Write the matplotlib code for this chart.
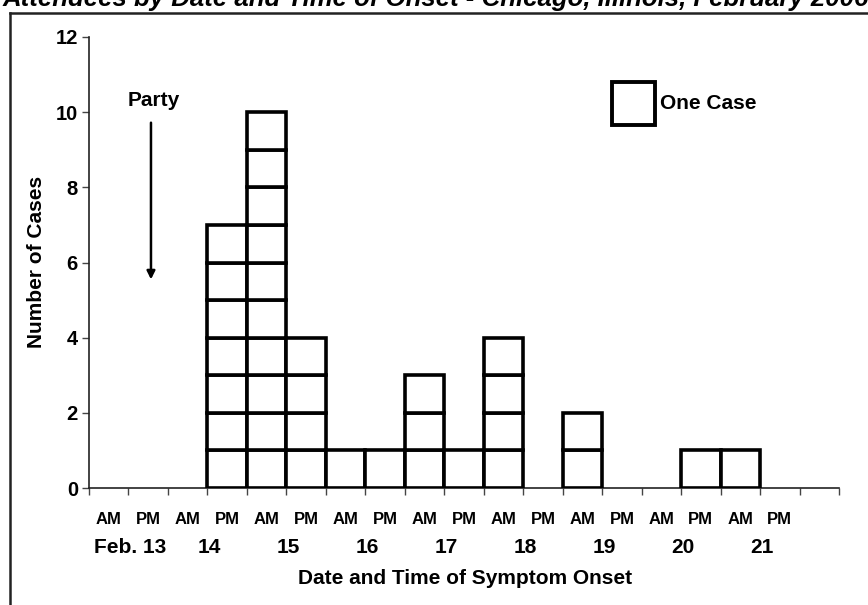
import matplotlib
matplotlib.use("Agg")
import matplotlib.pyplot as plt
from matplotlib.patches import Rectangle
from matplotlib.lines import Line2D

plt.rcParams['font.family'] = ['Liberation Sans', 'DejaVu Sans']
plt.rcParams['font.weight'] = 'bold'

# Data: half-day slots starting Feb 13 AM
half_day_labels = ["AM", "PM"] * 9
date_labels = ["Feb. 13", "14", "15", "16", "17", "18", "19", "20", "21"]
case_counts = [0, 0, 0, 7, 10, 4, 1, 1, 3, 1, 4, 0, 2, 0, 0, 1, 1, 0, 0]
y_ticks = [0, 2, 4, 6, 8, 10, 12]

W, H = 868, 605
fig = plt.figure(figsize=(W / 100, H / 100), dpi=100)
fig.patch.set_facecolor('white')

ax_l, ax_r, ax_t, ax_b = 89, 839, 37, 488
ax = fig.add_axes([ax_l / W, 1 - ax_b / H, (ax_r - ax_l) / W, (ax_b - ax_t) / H])
ax.set_facecolor('white')

n_slots = len(case_counts)
ax.set_xlim(0, n_slots)
ax.set_ylim(0, 12)

# Boxes: one square per case
for i, c in enumerate(case_counts):
    for k in range(c):
        ax.add_patch(Rectangle((i, k), 1, 1, facecolor='white', edgecolor='black',
                               linewidth=2.6, zorder=3))

# Spines
for s in ['top', 'right']:
    ax.spines[s].set_visible(False)
for s in ['left', 'bottom']:
    ax.spines[s].set_color('#222222')
    ax.spines[s].set_linewidth(1.2)

ax.set_yticks(y_ticks)
ax.set_yticklabels([str(v) for v in y_ticks], fontsize=14.5, fontweight='bold')
ax.set_xticks(range(n_slots + 1))
ax.set_xticklabels([])
ax.tick_params(axis='both', direction='out', length=5, width=1, color='#444444')
ax.tick_params(axis='y', pad=3)

# AM/PM labels
for i, lab in enumerate(half_day_labels):
    ax.text(i + 0.5, -0.85, lab, ha='center', va='center', fontsize=12,
            fontweight='bold', clip_on=False)
# Date labels
for j, lab in enumerate(date_labels):
    ax.text(2 * j + 1.05, -1.58, lab, ha='center', va='center', fontsize=15,
            fontweight='bold', clip_on=False)

fig.text(465 / W, 1 - 578 / H, "Date and Time of Symptom Onset",
         ha='center', va='center', fontsize=15, fontweight='bold')
fig.text(37 / W, 1 - 262 / H, "Number of Cases", rotation=90, ha='center', va='center',
         fontsize=15, fontweight='bold')

# Party arrow
ax.text(1.65, 10.3, "Party", ha='center', va='center', fontsize=15, fontweight='bold')
ax.annotate("", xy=(1.57, 5.55), xytext=(1.57, 9.72),
            arrowprops=dict(arrowstyle='-|>', color='black', lw=1.8,
                            mutation_scale=12, shrinkA=0, shrinkB=0))

# Legend
ax.add_patch(Rectangle((13.25, 9.65), 1.09, 1.15, facecolor='white', edgecolor='black',
                       linewidth=2.8, zorder=3, clip_on=False))
ax.text(14.47, 10.22, "One Case", ha='left', va='center', fontsize=15, fontweight='bold')

# Figure border (left and top)
fig.add_artist(Line2D([10 / W, 10 / W], [0, 1 - 13 / H], color='#222222', lw=1.8,
                      transform=fig.transFigure))
fig.add_artist(Line2D([10 / W, 1], [1 - 13 / H, 1 - 13 / H], color='#222222', lw=1.8,
                      transform=fig.transFigure))

# Title (cut off at the top edge, as in the reference)
fig.text(3 / W, 1 + 1 / H, "Attendees by Date and Time of Onset - Chicago, Illinois, February 2006",
         ha='left', va='center', fontsize=18.5, fontweight='bold', style='italic')

fig.savefig("out.png", dpi=100, facecolor='white')
